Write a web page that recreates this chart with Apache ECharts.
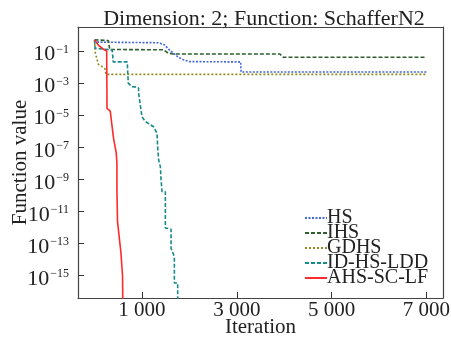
<!DOCTYPE html>
<html><head><meta charset="utf-8">
<script src="https://cdn.jsdelivr.net/npm/echarts@6/dist/echarts.min.js"></script>
<style>html,body{margin:0;padding:0;background:#fff}#c{width:451px;height:337px}</style>
</head><body><div id="c"></div>
<script>
var seriesNames = ['HS', 'IHS', 'GDHS', 'ID-HS-LDD', 'AHS-SC-LF'];
var hsIter = [0, 40, 1340, 1360, 1480, 1560, 1660, 1760, 1860, 2000, 3080, 3090, 7000];
var hsVal  = [0.5, 0.36, 0.33, 0.25, 0.24, 0.13, 0.075, 0.042, 0.03, 0.022, 0.021, 0.0049, 0.0049];
var ihsIter = [0, 290, 320, 1450, 1550, 1660, 3910, 3980, 7000];
var ihsVal  = [0.5, 0.45, 0.125, 0.12, 0.075, 0.066, 0.066, 0.041, 0.041];
var gdhsIter = [0, 15, 80, 150, 220, 240, 7000];
var gdhsVal  = [0.5, 0.075, 0.015, 0.011, 0.008, 0.0035, 0.0035];
var lddIter = [0, 10, 224, 372, 393, 689, 710, 789, 858, 928, 928, 1000, 1070, 1245, 1317, 1330, 1351, 1387, 1402, 1423, 1493, 1493, 1613, 1613, 1683, 1683, 1753, 1753];
var lddVal  = [0.5, 0.15, 0.13, 0.115, 0.021, 0.021, 1.0e-3, 6e-4, 5.8e-4, 5e-4, 2.4e-4, 8e-6, 4e-6, 1.9e-6, 7.4e-7, 1.05e-7, 1.6e-8, 6.2e-9, 1e-9, 1.7e-10, 1.7e-10, 9.3e-13, 7.8e-13, 5.1e-14, 1.5e-14, 3.4e-16, 3.4e-16, 1e-20];
var ahsIter = [0, 82, 188, 255, 262, 330, 400, 435, 457, 471, 471, 484, 526, 556, 590, 605];
var ahsVal  = [0.5, 0.23, 0.13, 0.1, 2.7e-5, 1.8e-5, 3.6e-7, 2.8e-7, 4.4e-8, 1.05e-8, 2.2e-10, 2.3e-12, 2.2e-12, 2.6e-14, 8.7e-16, 1e-20];
var xTickValues = [1000, 3000, 5000, 7000];
var xTickLabels = ['1 000', '3 000', '5 000', '7 000'];
var yTickExps = [-15, -13, -11, -9, -7, -5, -3, -1];

function pairs(xs, ys) { return xs.map(function (x, i) { return [x, ys[i]]; }); }
var FONT = 'Liberation Serif';
var colors = ['#4466dd', '#2f5f2f', '#8c8c1e', '#178a8a', '#ff2a2a'];
var types = [[2, 1.5], [4, 2], [2, 2], [4, 2], 'solid'];
var datas = [pairs(hsIter, hsVal), pairs(ihsIter, ihsVal), pairs(gdhsIter, gdhsVal), pairs(lddIter, lddVal), pairs(ahsIter, ahsVal)];

var series = seriesNames.map(function (n, i) {
  return {
    name: n, type: 'line', data: datas[i], symbol: 'none', showSymbol: false,
    clip: true, animation: false, xAxisIndex: 0, yAxisIndex: 0,
    lineStyle: { color: colors[i], width: 1.6, type: types[i] },
    itemStyle: { color: colors[i] }
  };
});
var yTickVals = yTickExps.map(function (e) { return Math.pow(10, e); });
var XMIN = -350, XMAX = 7350, YMIN = Math.pow(10, -16.4), YMAX = Math.pow(10, 0.5);
var frameLine = { show: true, onZero: false, lineStyle: { color: '#444', width: 1.2 } };

var chart = echarts.init(document.getElementById('c'));
chart.setOption({
  animation: false,
  backgroundColor: '#fff',
  title: { text: 'Dimension: 2; Function: SchafferN2', left: 259, top: 3, textAlign: 'center',
    textStyle: { fontFamily: FONT, fontSize: 22, fontWeight: 'normal', color: '#222' } },
  grid: { left: 78, right: 8, top: 27, bottom: 39, show: false, outerBoundsMode: 'none', containLabel: false },
  legend: {
    orient: 'vertical', left: 304, top: 208, itemGap: -5, itemWidth: 22, itemHeight: 16,
    data: seriesNames, padding: 0,
    itemStyle: { opacity: 0 },
    textStyle: { fontFamily: FONT, fontSize: 20, color: '#222', lineHeight: 16, padding: [0, 0, 0, -5] }
  },
  xAxis: [{
    type: 'value', min: XMIN, max: XMAX, position: 'bottom',
    name: 'Iteration', nameLocation: 'middle', nameGap: 19, nameMoveOverlap: false,
    nameTextStyle: { fontFamily: FONT, fontSize: 21, color: '#222' },
    axisLine: frameLine,
    axisTick: { show: true, inside: true, length: 6, customValues: xTickValues, lineStyle: { color: '#333' } },
    axisLabel: { customValues: xTickValues, margin: 2, fontFamily: FONT, fontSize: 21, color: '#222',
      formatter: function (v) { return xTickLabels[xTickValues.indexOf(v)]; } },
    splitLine: { show: false }
  }, {
    type: 'value', min: XMIN, max: XMAX, position: 'top',
    axisLine: frameLine, axisTick: { show: false }, axisLabel: { show: false }, splitLine: { show: false }
  }],
  yAxis: [{
    type: 'log', logBase: 10, min: YMIN, max: YMAX, position: 'left',
    name: 'Function value', nameLocation: 'middle', nameGap: 47, nameRotate: 90, nameMoveOverlap: false,
    nameTextStyle: { fontFamily: FONT, fontSize: 21, color: '#222' },
    axisLine: frameLine,
    axisTick: { show: true, inside: true, length: 6, customValues: yTickVals, lineStyle: { color: '#333' } },
    axisLabel: {
      customValues: yTickVals,
      margin: 9, fontFamily: FONT, color: '#222', padding: [7, 0, 0, 0],
      formatter: function (v) {
        var e = Math.round(Math.log10(v));
        return '{b|10}{s|\u2212' + Math.abs(e) + '}';
      },
      rich: {
        b: { fontFamily: FONT, fontSize: 22, color: '#222', lineHeight: 22, verticalAlign: 'bottom' },
        s: { fontFamily: FONT, fontSize: 12, color: '#222', lineHeight: 22, verticalAlign: 'top', padding: [0, 0, 0, 1] }
      }
    },
    splitLine: { show: false }
  }, {
    type: 'log', logBase: 10, min: YMIN, max: YMAX, position: 'right',
    axisLine: frameLine, axisTick: { show: false }, axisLabel: { show: false }, splitLine: { show: false }
  }],
  series: series
});
</script></body></html>
